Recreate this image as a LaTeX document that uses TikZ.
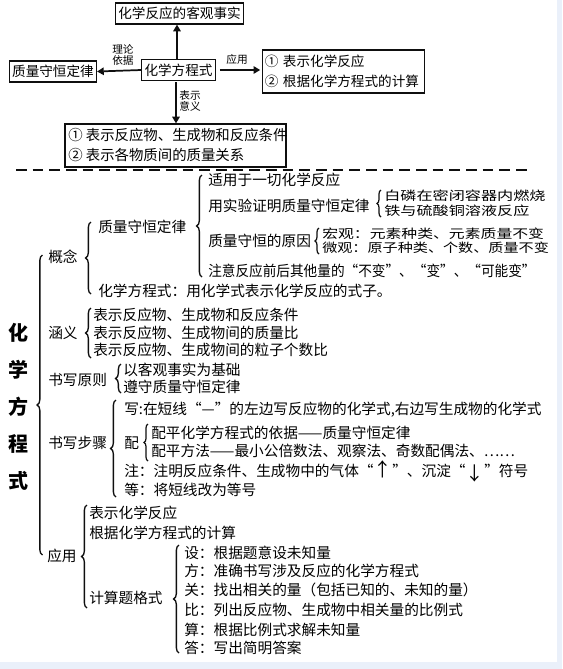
\documentclass[tikz,border=0pt]{standalone}
\usepackage{fontspec}
\usepackage{graphicx}
\setmainfont{Noto Sans CJK SC}
\usetikzlibrary{arrows.meta, positioning, decorations.pathreplacing}
\definecolor{mydark}{RGB}{15,15,15}
\definecolor{myedge}{RGB}{234,240,250}
\newcommand{\boxfont}{\fontsize{10.2}{15}\selectfont}
\newcommand{\itemfont}{\fontsize{11}{13}\selectfont}
\newcommand{\labfont}{\fontsize{8}{8.6}\selectfont}
\newcommand{\bigfont}{\fontsize{15}{16}\selectfont\bfseries}
\newcommand{\squash}[2][1.1]{\scalebox{#1}[0.85]{#2}}
\newcommand{\bigarrow}[1]{{\fontsize{14}{14}\selectfont #1}}
\tikzset{
  box/.style={rectangle, draw=mydark, line width=0.9pt, inner xsep=2pt, inner ysep=1pt,
    minimum height=15.75pt, font=\boxfont, align=left},
  arrow/.style={-{Triangle[length=5pt,width=5.5pt]}, line width=1.3pt, color=mydark},
  tag/.style={font=\labfont, align=center, inner sep=0pt},
  item/.style={anchor=west, inner sep=0pt, font=\itemfont},
  brace/.style={decorate, decoration={brace, amplitude=4pt}, line width=1pt, color=mydark},
  smallbrace/.style={decorate, decoration={brace, amplitude=3pt}, line width=0.9pt, color=mydark},
  cut/.style={line width=1.8pt, dash pattern=on 8pt off 4.5pt, color=mydark},
  title/.style={font=\bigfont, inner sep=0pt}
}

\begin{document}
\begin{tikzpicture}[x=0.75pt, y=-0.75pt]
  \useasboundingbox (0,0) rectangle (562,669);
  \fill[myedge] (0,0) rectangle (562,669);
  \fill[white] (0,0) rectangle (557,662);
  % top map
  \node[box] (fact) at (179.5,13.5) {化学反应的客观事实};
  \node[box] (eq) at (178.5,70) {化学方程式};
  \node[box] (law) at (53,71.5) {质量守恒定律};
  \node[box, text width=118pt, minimum height=32.25pt] (use) at (343.5,71.5)
    {① 表示化学反应\\② 根据化学方程式的计算};
  \node[box, minimum width=165.75pt, minimum height=32.25pt] (sense) at (175.5,145.5) {};
  \node[item, font=\fontsize{10.8}{13}\selectfont] (sense1) at (68,135) {① 表示反应物、生成物和反应条件};
  \node[item, font=\fontsize{10.8}{13}\selectfont] (sense2) at (68,155) {② 表示各物质间的质量关系};
  \draw[arrow] (eq.north -| 177,0) -- (fact.south -| 177,0);
  \draw[arrow] (eq.west) -- (law.east);
  \draw[arrow, shorten <=3pt, shorten >=1pt] (eq.east) -- (use.west |- eq.east);
  \draw[arrow, shorten <=1pt] (eq.south -| 176,0) -- (sense.north -| 176,0);
  \node[tag] (tagbase) at (123,55) {理论\\依据};
  \node[tag] (taguse) at (237,59) {应用};
  \node[tag] (tagmean) at (190,101) {表示\\意义};
  % cut line
  \draw[cut] (16,170) -- (527,170);
  % title
  \foreach \ch [count=\i] in {化,学,方,程,式}
    \node[title] (title\i) at (18,{296+37*\i}) {\ch};
  \draw[brace] (42.5,555) -- (42.5,255);
  % concept
  \node[item] (concept) at (48,257) {概念};
  \draw[brace] (91,294) -- (91,222);
  \node[item] (lawitem) at (98,227) {质量守恒定律};
  \draw[brace] (202,277) -- (202,175);
  \node[item] (law1) at (208,180) {适用于一切化学反应};
  \node[item] (law2) at (208,206) {用实验证明质量守恒定律};
  \draw[smallbrace] (381,217) -- (381,190);
  \node[item] (exp1) at (384,196) {\squash{白磷在密闭容器内燃烧}};
  \node[item] (exp2) at (384,211) {\squash{铁与硫酸铜溶液反应}};
  \node[item] (law3) at (208,241) {质量守恒的原因};
  \draw[smallbrace] (319,254) -- (319,228);
  \node[item] (why1) at (322,234) {\squash[1.08]{宏观：元素种类、元素质量不变}};
  \node[item] (why2) at (322,248) {\squash[1.03]{微观：原子种类、个数、质量不变}};
  \node[item] (law4) at (208,271) {\scalebox{0.93}[1]{注意反应前后其他量的“不变”、“变”、“可能变”}};
  \node[item] (def) at (98,291) {化学方程式：用化学式表示化学反应的式子。};
  % meaning
  \node[item] (mean) at (48,333) {涵义};
  \draw[brace] (91,358) -- (91,308);
  \node[item] (mean1) at (93,315) {表示反应物、生成物和反应条件};
  \node[item] (mean2) at (93,333) {表示反应物、生成物间的质量比};
  \node[item] (mean3) at (93,350) {表示反应物、生成物间的粒子个数比};
  % rules
  \node[item] (rule) at (48,380) {书写原则};
  \draw[brace] (121,393) -- (121,364);
  \node[item] (rule1) at (123,370) {以客观事实为基础};
  \node[item] (rule2) at (123,387) {遵守质量守恒定律};
  % steps
  \node[item] (step) at (48,443) {书写步骤};
  \draw[brace] (116,497) -- (116,400);
  \node[item] (step1) at (124,410) {写:在短线“—”的左边写反应物的化学式,右边写生成物的化学式};
  \node[item] (step2) at (124,443) {配};
  \draw[smallbrace] (148,461) -- (148,424);
  \node[item] (bal1) at (151,433) {配平化学方程式的依据——质量守恒定律};
  \node[item] (bal2) at (151,451) {配平方法——最小公倍数法、观察法、奇数配偶法、……};
  \node[item] (step3) at (124,471) {注：注明反应条件、生成物中的气体“\bigarrow{↑}”、沉淀“\raisebox{-3pt}{\bigarrow{↓}}”符号};
  \node[item] (step4) at (124,490) {等：将短线改为等号};
  % application
  \node[item] (app) at (47,556) {应用};
  \draw[brace] (87,608) -- (87,505);
  \node[item] (app1) at (89,513) {表示化学反应};
  \node[item] (app2) at (89,533) {根据化学方程式的计算};
  \node[item] (app3) at (89,598) {计算题格式};
  \draw[brace] (179,653) -- (179,545);
  \node[item] (calc1) at (184,553) {设：根据题意设未知量};
  \node[item] (calc2) at (184,571) {方：准确书写涉及反应的化学方程式};
  \node[item] (calc3) at (184,590) {关：找出相关的量（包括已知的、未知的量）};
  \node[item] (calc4) at (184,610) {比：列出反应物、生成物中相关量的比例式};
  \node[item] (calc5) at (184,630) {算：根据比例式求解未知量};
  \node[item] (calc6) at (184,648) {答：写出简明答案};
\end{tikzpicture}
\end{document}
